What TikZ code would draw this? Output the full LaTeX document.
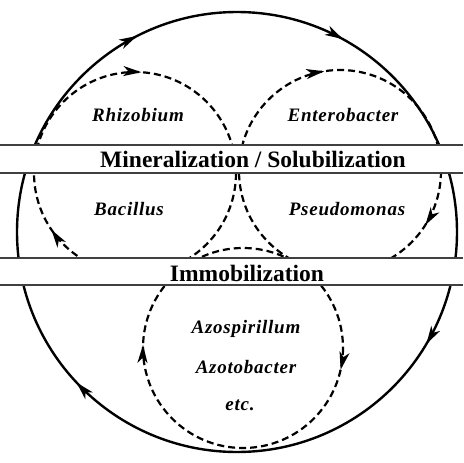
\documentclass[tikz,border=0pt]{standalone}
\usepackage{fontspec}
\setmainfont{Liberation Serif}
\usetikzlibrary{arrows.meta,decorations.markings}
\begin{document}
\begin{tikzpicture}[y ={(0pt,-1pt)}, x ={(1pt,0pt)},
		flow/.style={postaction={decorate, decoration={markings, mark=at position #1 with {\arrow{Stealth[length=18pt,width=10pt,inset=5pt]}}}}},
		bigring/.style={line width=2.4pt},
		subring/.style={line width=2.2pt, dash pattern=on 7pt off 4pt},
		bandline/.style={line width=2pt, black!75},
		organism/.style={anchor=base, font=\fontsize{19}{19}\selectfont\bfseries\itshape\addfontfeatures{LetterSpace=4}},
		process/.style={anchor=base, font=\fontsize{23.5}{23.5}\selectfont\bfseries}]
			\useasboundingbox (0,0) rectangle (463,463);
			\coordinate (O) at (237,232);
			\coordinate (R) at (135,173);
			\coordinate (E) at (340,171);
			\coordinate (A) at (243,348);
			\draw[bigring, flow=0.085, flow=0.38, flow=0.675, flow=0.83] (O) circle [radius=220];
			\draw[subring, flow=0.405, flow=0.76] (R) circle [radius=101];
			\draw[subring, flow=0.09, flow=0.725] (E) circle [radius=101];
			\draw[subring, flow=0.035, flow=0.505] (A) circle [radius=100];
			\fill[white] (0,145) rectangle (463,173);
			\fill[white] (0,258) rectangle (463,285);
			\draw[bandline] (0,145) -- (463,145) (0,173) -- (463,173);
			\draw[bandline] (0,258) -- (463,258) (0,285) -- (463,285);
			\node[process] (minsol) at (253,167) {Mineralization / Solubilization};
			\node[process] (immob) at (247,281) {Immobilization};
			\node[organism] (rhiz) at (138,121) {Rhizobium};
			\node[organism] (entero) at (343,121) {Enterobacter};
			\node[organism] (bac) at (129,215) {Bacillus};
			\node[organism] (pseudo) at (347,215) {Pseudomonas};
			\node[organism] (azosp) at (246,333) {Azospirillum};
			\node[organism] (azoto) at (246,373) {Azotobacter};
			\node[organism] (etc) at (240,410) {etc.};
		\end{tikzpicture}
\end{document}
